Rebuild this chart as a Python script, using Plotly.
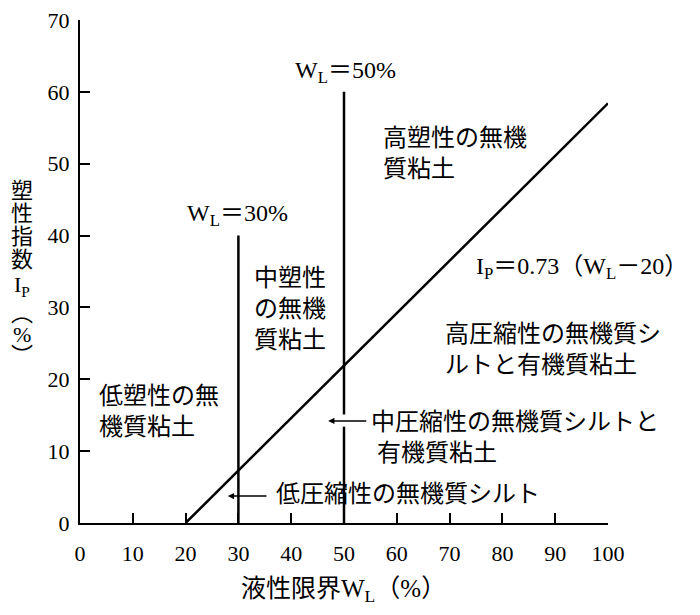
import plotly.graph_objects as go

# plasticity chart data
a_line_x = [20, 100]
a_line_y = [0, 58.4]
wl_lines_x = [30, 50]
wl_lines_top = [40, 60]
x_ticks = [0, 10, 20, 30, 40, 50, 60, 70, 80, 90, 100]
y_ticks = [0, 10, 20, 30, 40, 50, 60, 70]

SERIF = "Liberation Serif, Noto Sans CJK JP"
W, H = 700, 615
L, R, T, B = 80, 92, 20, 92


def px2paper(px, py):
    # pixel position in the page -> paper coords
    return (px - L) / (W - L - R), (H - B - py) / (H - T - B)


fig = go.Figure()

fig.add_trace(go.Scatter(x=a_line_x, y=a_line_y, mode="lines",
                         line=dict(color="black", width=2.5), hoverinfo="skip"))
for xv, top in zip(wl_lines_x, wl_lines_top):
    fig.add_trace(go.Scatter(x=[xv, xv], y=[0, top], mode="lines",
                             line=dict(color="black", width=2.5), hoverinfo="skip"))

# small white gap where the arrow crosses the WL=50 line
fig.add_shape(type="line", x0=50, x1=50, y0=13.4, y1=15.1,
              line=dict(color="white", width=5), layer="above")

labels = [
    # text, x, y, xanchor
    ("W<sub>L</sub>＝30%", 29.8, 42.8, "center"),
    ("W<sub>L</sub>＝50%", 50.2, 62.7, "center"),
    ("高塑性の無機<br>質粘土", 57.0, 51.4, "left"),
    ("中塑性<br>の無機<br>質粘土", 32.5, 29.8, "left"),
    ("低塑性の無<br>機質粘土", 3.2, 15.5, "left"),
    ("I<sub>P</sub>＝0.73（W<sub>L</sub>－20）", 74.6, 35.5, "left"),
    ("高圧縮性の無機質シ<br>ルトと有機質粘土", 68.7, 24.1, "left"),
    ("中圧縮性の無機質シルトと<br> 有機質粘土", 54.7, 11.9, "left"),
    ("低圧縮性の無機質シルト", 36.7, 4.0, "left"),
]
for txt, xv, yv, anc in labels:
    fig.add_annotation(x=xv, y=yv, text=txt, showarrow=False, xanchor=anc,
                       yanchor="middle", align="left",
                       font=dict(family=SERIF, size=24, color="black"))

# arrows
for head_x, tail_x, yv in [(47.0, 54.5, 14.2), (28.0, 35.6, 3.75)]:
    fig.add_annotation(x=head_x, y=yv, ax=tail_x, ay=yv, axref="x", ayref="y",
                       text="", showarrow=True, arrowhead=2, arrowsize=0.9,
                       arrowwidth=1.4, arrowcolor="black")

# vertical y-axis title
ytitle = [("塑", 190), ("性", 213), ("指", 236), ("数", 259),
          ("I<sub>P</sub>", 286), ("︵", 313), ("%", 334), ("︶", 355)]
for ch, py in ytitle:
    px_, py_ = px2paper(22, py)
    fig.add_annotation(x=px_, y=py_, xref="paper", yref="paper", text=ch,
                       showarrow=False, xanchor="center", yanchor="middle",
                       font=dict(family=SERIF, size=22, color="black"))

# x-axis title
tx, ty = px2paper(343, 590)
fig.add_annotation(x=tx, y=ty, xref="paper", yref="paper",
                   text="液性限界W<sub>L</sub>（%）", showarrow=False,
                   xanchor="center", yanchor="middle",
                   font=dict(family=SERIF, size=25, color="black"))

axis_common = dict(showgrid=False, zeroline=False, showline=True,
                   linecolor="black", linewidth=2, ticks="inside",
                   ticklen=10, tickwidth=1.5, tickcolor="black",
                   automargin=False,
                   tickfont=dict(family="Liberation Serif", size=22, color="black"))

fig.update_xaxes(range=[0, 100], tickvals=x_ticks, ticklabelstandoff=10,
                 **axis_common)
fig.update_yaxes(range=[0, 70], tickvals=y_ticks, ticklabelstandoff=4,
                 **axis_common)

fig.update_layout(
    width=W, height=H,
    margin=dict(l=L, r=R, t=T, b=B),
    plot_bgcolor="white", paper_bgcolor="white",
    showlegend=False,
)

fig.write_html("out.html", config={"displayModeBar": False},
               post_script="document.body.style.margin='0';")
